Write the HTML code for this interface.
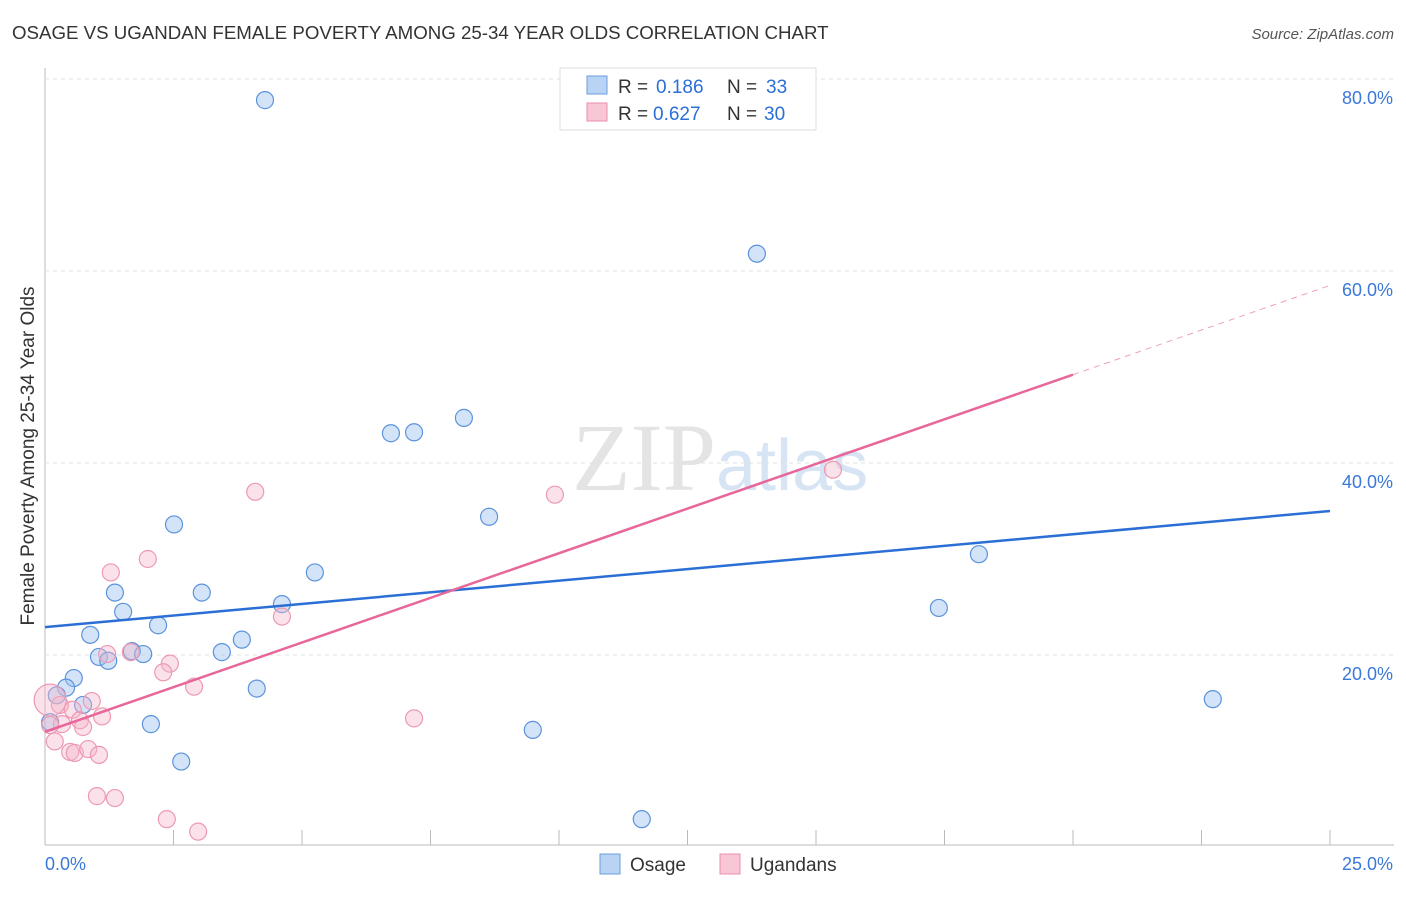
<!DOCTYPE html>
<html><head><meta charset="utf-8"><style>
body{margin:0;background:#fff;font-family:"Liberation Sans",sans-serif}
</style></head><body>
<svg width="1406" height="892" viewBox="0 0 1406 892" id="svg" style="font-family:'Liberation Sans',sans-serif">
<text x="12" y="39" font-size="18.7" fill="#333">OSAGE VS UGANDAN FEMALE POVERTY AMONG 25-34 YEAR OLDS CORRELATION CHART</text>
<text x="1394" y="39" font-size="15" fill="#555" font-style="italic" text-anchor="end">Source: ZipAtlas.com</text>
<text x="716" y="490" font-size="96" fill="#e4e4e4" text-anchor="end" font-family="Liberation Serif">ZIP</text>
<text x="716" y="490" font-size="72" fill="#d6e4f4">atlas</text>
<text transform="translate(34,456) rotate(-90)" font-size="19" fill="#333" text-anchor="middle">Female Poverty Among 25-34 Year Olds</text>
<g id="grid"></g><g id="pts"></g><g id="lines"></g>
<g>
<rect x="560" y="68" width="256" height="62" fill="#fff" stroke="#ddd"/>
<rect x="587" y="76" width="20" height="18" fill="#b9d3f5" stroke="#6a9ee0"/>
<rect x="587" y="103" width="20" height="18" fill="#f9c6d5" stroke="#eb8fab"/>
<text y="93" font-size="19" fill="#333"><tspan x="618">R =</tspan><tspan x="656" fill="#2b6fd6">0.186</tspan><tspan x="727">N =</tspan><tspan x="766" fill="#2b6fd6">33</tspan></text>
<text y="120" font-size="19" fill="#333"><tspan x="618">R =</tspan><tspan x="653" fill="#2b6fd6">0.627</tspan><tspan x="727">N =</tspan><tspan x="764" fill="#2b6fd6">30</tspan></text>
</g>
<g>
<rect x="600" y="854" width="20" height="20" fill="#b9d3f5" stroke="#6a9ee0"/>
<text x="630" y="871" font-size="19" fill="#333">Osage</text>
<rect x="720" y="854" width="20" height="20" fill="#f9c6d5" stroke="#eb8fab"/>
<text x="750" y="871" font-size="19" fill="#333">Ugandans</text>
</g>
</svg>
<script>
const xTicks=[0,25];
const yTicks=[20,40,60,80];
const osageX=[4.28,13.85,6.73,7.18,8.15,8.64,2.51,5.25,18.17,3.05,1.36,4.61,1.52,2.20,17.39,0.88,3.83,1.69,1.91,3.44,1.05,1.23,0.56,0.41,0.23,0.74,4.12,2.06,9.49,2.65,11.61,22.72,0.10];
const osageY=[77.8,61.8,43.1,43.2,44.7,34.4,33.6,28.6,30.5,26.5,26.5,25.3,24.5,23.1,24.9,22.1,21.6,20.4,20.1,20.3,19.8,19.4,17.6,16.6,15.8,14.8,16.5,12.8,12.2,8.9,2.9,15.4,13.0];
const ugX=[15.33,9.92,4.09,2.00,1.28,4.61,1.21,1.67,2.43,2.30,2.90,0.91,0.29,0.54,1.11,0.68,7.18,0.74,0.33,0.19,0.49,0.58,0.84,1.05,1.01,1.36,2.37,2.98,0.10,0.10];
const ugY=[39.3,36.7,37.0,30.0,28.6,24.0,20.1,20.3,19.1,18.2,16.7,15.2,14.8,14.3,13.6,13.2,13.4,12.5,12.8,11.0,9.9,9.8,10.2,9.6,5.3,5.1,2.9,1.6,15.3,12.7];
const osageLine=[22.9,35.0];
const ugLine=[12.0,58.5];
const ugSolidEnd=20;
const X=v=>45+v/25*1285, Y=v=>847-v*9.6;
const NS="http://www.w3.org/2000/svg";
function mk(p,t,a){const e=document.createElementNS(NS,t);for(const k in a)e.setAttribute(k,a[k]);document.getElementById(p).appendChild(e);return e;}
let e;
e=mk('grid','line',{x1:45,y1:68,x2:45,y2:845,stroke:'#bbb'});


e=mk('grid','line',{x1:45,y1:845,x2:1394,y2:845,stroke:'#bbb'});


for(let i=0;i<=10;i++){e=mk('grid','line',{x1:X(i*2.5),x2:X(i*2.5),y1:830,y2:845,stroke:'#bbb'});

}
yTicks.forEach(v=>{e=mk('grid','line',{x1:45,x2:1394,y1:Y(v),y2:Y(v),stroke:'#e2e2e2','stroke-dasharray':'4,4'});


e=mk('grid','text',{x:1393,y:Y(v)+25,'text-anchor':'end','font-size':18,fill:'#3b78d8'});e.textContent=v.toFixed(1)+'%';

});
xTicks.forEach((v,i)=>{e=mk('grid','text',{x:i?1393:45,y:870,'text-anchor':i?'end':'start','font-size':18,fill:'#3b78d8'});e.textContent=v.toFixed(1)+'%';

});
osageX.forEach((x,i)=>{e=mk('pts','circle',{cx:X(x),cy:Y(osageY[i]),r:8.5,fill:'rgba(160,196,240,0.45)',stroke:'#5b93dc','stroke-width':1.2});

});
ugX.forEach((x,i)=>{e=mk('pts','circle',{cx:X(x),cy:Y(ugY[i]),r:i==28?16:8.5,fill:'rgba(246,180,200,0.4)',stroke:'#ec9ab3','stroke-width':1.2});

});
e=mk('lines','line',{x1:X(0),y1:Y(osageLine[0]),x2:X(25),y2:Y(osageLine[1]),stroke:'#2b6fd6','stroke-width':2.5});


const ugAt=v=>ugLine[0]+(ugLine[1]-ugLine[0])*v/25;
e=mk('lines','line',{x1:X(0),y1:Y(ugLine[0]),x2:X(ugSolidEnd),y2:Y(ugAt(ugSolidEnd)),stroke:'#e8679a','stroke-width':2.5});


e=mk('lines','line',{x1:X(ugSolidEnd),y1:Y(ugAt(ugSolidEnd)),x2:X(25),y2:Y(ugLine[1]),stroke:'#eda0bb','stroke-width':1,'stroke-dasharray':'6,5'});


</script>
</body></html>
